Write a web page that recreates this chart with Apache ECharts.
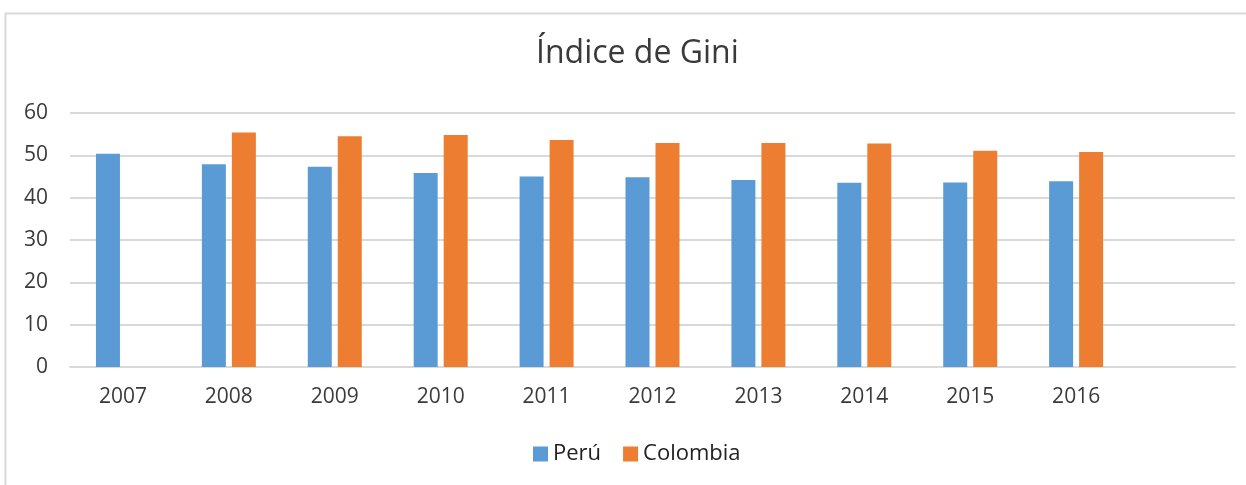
<!DOCTYPE html>
<html>
<head>
<meta charset="utf-8">
<script src="https://cdn.jsdelivr.net/npm/echarts@6/dist/echarts.min.js"></script>
<style>
  html, body { margin: 0; padding: 0; background: #fff; }
  #chart { width: 1246px; height: 485px; }
</style>
</head>
<body>
<div id="chart"></div>
<script>
var years = ['2007', '2008', '2009', '2010', '2011', '2012', '2013', '2014', '2015', '2016', ''];
var peru = [50.4, 47.9, 47.3, 45.8, 45.0, 44.8, 44.2, 43.5, 43.6, 43.9, null];
var colombia = [null, 55.4, 54.5, 54.8, 53.6, 52.9, 52.9, 52.8, 51.1, 50.8, null];
var yTicks = [0, 10, 20, 30, 40, 50, 60];

var myChart = echarts.init(document.getElementById('chart'));
var font = '"Open Sans", sans-serif';

var option = {
  animation: false,
  graphic: [
    {
      type: 'polyline',
      shape: { points: [[5.5, 485], [5.5, 13.5], [1246, 13.5]] },
      style: { stroke: '#d9d9d9', lineWidth: 2, fill: null }
    }
  ],
  title: {
    text: 'Índice de Gini',
    left: 531,
    top: 33,
    textStyle: { fontFamily: font, fontSize: 32, fontWeight: 'normal', color: '#3a3a3a' }
  },
  legend: {
    top: 438,
    left: 528,
    itemWidth: 15,
    itemHeight: 15,
    itemGap: 22,
    icon: 'rect',
    textStyle: { fontFamily: font, fontSize: 22, color: '#222' }
  },
  grid: { left: 70, right: 11, top: 113, bottom: 118 },
  xAxis: {
    type: 'category',
    data: years,
    axisLine: { lineStyle: { color: '#d9d9d9', width: 2 } },
    axisTick: { show: false },
    axisLabel: { fontFamily: font, fontSize: 21, color: '#3a3a3a', margin: 20 }
  },
  yAxis: {
    type: 'value',
    min: yTicks[0],
    max: yTicks[yTicks.length - 1],
    interval: 10,
    axisLine: { show: false },
    axisTick: { show: false },
    splitLine: { lineStyle: { color: '#d9d9d9', width: 2 } },
    axisLabel: { fontFamily: font, fontSize: 21, color: '#3a3a3a', margin: 22 }
  },
  series: [
    {
      name: 'Perú',
      type: 'bar',
      data: peru,
      barWidth: 24,
      barGap: '25%',
      itemStyle: { color: '#5b9bd5' }
    },
    {
      name: 'Colombia',
      type: 'bar',
      data: colombia,
      barWidth: 24,
      itemStyle: { color: '#ed7d31' }
    }
  ]
};

myChart.setOption(option);
</script>
</body>
</html>
